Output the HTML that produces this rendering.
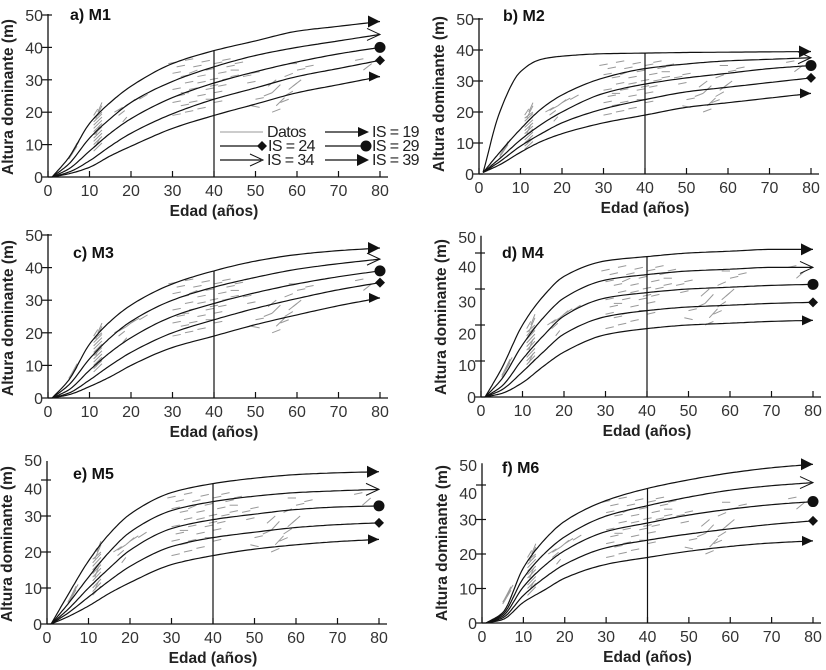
<!DOCTYPE html>
<html><head><meta charset="utf-8">
<style>
html,body{margin:0;padding:0;background:#fff;}
svg{display:block;font-family:"Liberation Sans",sans-serif;}
.tk{font-size:16px;fill:#333;}
.ttl{font-size:15.5px;font-weight:bold;fill:#222;}
.pt{font-size:16px;font-weight:bold;fill:#111;}
.lg{font-size:16px;fill:#222;letter-spacing:-0.6px;}
</style></head>
<body>
<svg id="fig" width="826" height="670" viewBox="0 0 826 670" xmlns="http://www.w3.org/2000/svg"></svg>
<script>
// ---- data ----
const ages = [1,5,10,15,20,30,40,50,60,70,80];
const siteIndices = [39,34,29,24,19];
const xTicks = [0,10,20,30,40,50,60,70,80];
const yTickLabels = [0,10,20,30,40,50];
// M1
const m1_is39 = [0,6,16.5,23,28,35,39,42,45,46.5,48];
const m1_is34 = [0,4,12,18,23,29.5,34,37.5,40,42,44];
const m1_is29 = [0,2.5,8,13.5,18,24.5,29,32.5,35.5,38,40];
const m1_is24 = [0,1.5,5,9.5,13.5,19.5,24,27.5,31,33.5,36];
const m1_is19 = [0,1,3,6.5,9.5,15,19,22.5,26,28.5,31];
// M2
const m2_is39 = [0.5,20,33,37,38,38.8,39,39.2,39.3,39.4,39.5];
const m2_is34 = [0.5,7,14.5,21,25.5,31,34,35.5,36.5,37,37.5];
const m2_is29 = [0.5,5,11,16,20,26,29,31,32.5,34,35];
const m2_is24 = [0.5,4,9,13,16.5,21,24,26.5,28,29.5,31];
const m2_is19 = [0.5,3,7,10.5,13,16.5,19,21.5,23,24.5,26];
// M3
const m3_is39 = [0,5.5,16.5,23.5,28.5,35,39,42,44,45.2,46];
const m3_is34 = [0,4,12,18.5,23.5,30,34,37,39.5,41.2,42.6];
const m3_is29 = [0,2.5,8.5,14,18.5,25,29,32.3,35,37.2,39];
const m3_is24 = [0,1.5,5.5,10,14,20,24,27.5,30.5,33.2,35.4];
const m3_is19 = [0,1,3.5,6.5,10,15.5,19,22.5,25.5,28.3,30.7];
// M4
const m4_is39 = [0,8,20,28,33.5,37.8,39,40,40.5,41,41];
const m4_is34 = [0,5,14.5,22,27.5,32.5,34,35,35.5,36,36];
const m4_is29 = [0,3,10.5,17,22.5,27.5,29,30,30.5,31,31.3];
const m4_is24 = [0,2,7,12.5,17.5,22.3,24,25,25.5,26,26.3];
const m4_is19 = [0,1,4,8.5,12.5,17.3,19,20,20.5,21,21.3];
// M5
const m5_is39 = [0,8,17.5,25,30.5,36.5,39,40.5,41.5,42,42.3];
const m5_is34 = [0,5.5,13,20,25.5,31.5,34,35.5,36.5,37,37.4];
const m5_is29 = [0,4,10,15.5,20.5,26.5,29,30.5,31.8,32.5,32.8];
const m5_is24 = [0,3,7.5,12,16,21.5,24,25.5,26.8,27.6,28.1];
const m5_is19 = [0,2,5,8.5,11.5,16.5,19,20.8,22,22.9,23.5];
// M6
const m6_is39 = [0,3,16,24,29.5,35.5,39,41.5,43.5,45,46];
const m6_is34 = [0,2.5,13,20,25,31,34,36.5,38.5,39.8,40.7];
const m6_is29 = [0,2,10.5,16.5,21,26.5,29,31.3,33,34.3,35.2];
const m6_is24 = [0,1.5,8,13,17,21.8,24,25.8,27.3,28.6,29.6];
const m6_is19 = [0,1,6,9.5,13,17,19,20.8,22.2,23.2,23.8];
// observed data segments [age1,h1,age2,h2]
const dataSegments = [
[5,6,6.5,9],[5.5,7,7,10.5],[6,8,7.5,11],[5,5.5,6,7.5],[6,7.5,7,9.5],
[11,8,13,10.5],[11,9,13,11.5],[11,10,13,12.5],[11,11,13,13.5],[11,12,13,14.5],[11,13,13,15.5],[11,14,13,16.5],
[11,15,13,17.5],[11,16,13,18.5],[11,17,13,19.5],[11,18,13,20],[11.5,9.5,12.5,12],[11.5,13,12.5,16],[11.5,18,13,22],[12,20,13,23],[11,19,12,21],
[16,20,18,21.5],[17,20.5,19,22],[18,17,19,18.5],[19,22,21,24],[20,23,22,24.5],[22,24,24,25.5],[17,19,18.5,20.5],
[29,35,31,35.5],[31,34,33,34.5],[33,36,35,36.5],[35,34,37,34.5],[37,35.5,39,36],[30,32,32,32.5],[32,31,34,31.5],[34,32,36,33],
[36,31,38,31.5],[38,33,40,33.5],[40,35,42,35.5],[42,36,44,36.5],[43,34,45,34.5],[41,32,43,32.5],[44,31,46,31.5],[39,30,41,30.5],
[33,29,35,29.5],[30,27,32,27.5],[31,25,33,25.5],[32,26,34,26],[34,27,36,27.5],[36,25,38,25.5],[38,27,40,27.5],[40,26,42,26.5],
[41,28,43,28.5],[30,23,32,23.5],[32,22,34,22.5],[34,23,36,23.5],[36,21,38,21.5],[38,24,40,24],[40,23,42,23.5],[30,19,32,19.5],
[33,20,35,20.5],[36,29,38,29.5],[39,28,41,28.5],[42,30,44,30.5],[44,33,46,33],[45,35,47,35.5],
[47,31,49,31.5],[49,32,51,32.5],[48,29,50,29.5],[50,24,52,24.5],[49,22,51,21.5],[53,28,55,30],[52,25,54,26],[54,26,56,28.5],
[55,22,57,24.5],[54,20,56,21],[56,23,58,24],[58,27,60,29],[57,25,59,26.5],[59,28,61,30],[60,33,62,33.5],[58,35,60,35],
[62,34,64,34.5],[57,31,59,32],[76,33,78,35],[74,36,76,36.5]
];
// ---- panel layouts ----
const panels = [
 {id:'a',title:'a) M1',x0:48,x80:380,y0:177,k:3.24,tickMax:50,labelPos:[0,10,20,30,40,50],tx:70,ty:20,curves:[m1_is39,m1_is34,m1_is29,m1_is24,m1_is19]},
 {id:'b',title:'b) M2',x0:479,x80:811,y0:174,k:3.1,tickMax:50,labelPos:[0,10,20,30,40,50],tx:503,ty:21,curves:[m2_is39,m2_is34,m2_is29,m2_is24,m2_is19]},
 {id:'c',title:'c) M3',x0:48,x80:380,y0:398,k:3.26,tickMax:50,labelPos:[0,10,20,30,40,50],tx:73,ty:258,curves:[m3_is39,m3_is34,m3_is29,m3_is24,m3_is19]},
 {id:'d',title:'d) M4',x0:481,x80:813,y0:397,k:3.6,tickMax:44.5,ticks:[0,10,20,30,40],labelPos:[0,8.9,17.7,26.5,36.2,44.4],tx:502,ty:258,curves:[m4_is39,m4_is34,m4_is29,m4_is24,m4_is19]},
 {id:'e',title:'e) M5',x0:47,x80:379,y0:624,k:3.6,tickMax:45,ticks:[0,10,20,30,40],labelPos:[0,10,20,30,37.7,45.5],tx:73,ty:479,curves:[m5_is39,m5_is34,m5_is29,m5_is24,m5_is19]},
 {id:'f',title:'f) M6',x0:482,x80:813,y0:623,k:3.45,tickMax:46,ticks:[0,10,20,30,40],labelPos:[0,10,20,30,37.7,45.8],tx:502,ty:473,curves:[m6_is39,m6_is34,m6_is29,m6_is24,m6_is19]}
];
const NS='http://www.w3.org/2000/svg';
const svg=document.getElementById('fig');
function mk(tag,attrs,parent){const e=document.createElementNS(NS,tag);for(const a in attrs)e.setAttribute(a,attrs[a]);(parent||svg).appendChild(e);return e;}
// monotone cubic (Fritsch-Carlson) interpolation, sampled
function monotonePath(xs,ys,sx,sy){
  const n=xs.length,h=[],dl=[],m=new Array(n);
  for(let i=0;i<n-1;i++){h[i]=xs[i+1]-xs[i];dl[i]=(ys[i+1]-ys[i])/h[i];}
  m[0]=dl[0];m[n-1]=dl[n-2];
  for(let i=1;i<n-1;i++){
    if(dl[i-1]*dl[i]<=0)m[i]=0;
    else{const w1=2*h[i]+h[i-1],w2=h[i]+2*h[i-1];m[i]=(w1+w2)/(w1/dl[i-1]+w2/dl[i]);}
  }
  let d='';
  for(let i=0;i<n-1;i++){
    const steps=12;
    for(let s=(i===0?0:1);s<=steps;s++){
      const t=s/steps,t2=t*t,t3=t2*t;
      const v=(2*t3-3*t2+1)*ys[i]+(t3-2*t2+t)*h[i]*m[i]+(-2*t3+3*t2)*ys[i+1]+(t3-t2)*h[i]*m[i+1];
      const x=xs[i]+t*h[i];
      d+=(d?' L':'M')+sx(x).toFixed(1)+','+sy(v).toFixed(1);
    }
  }
  return d;
}
function marker(g,type,x,y){
  let m;
  if(type===0) m=mk('path',{d:`M${x-12},${y-6} L${x},${y} L${x-12},${y+6} Z`,fill:'#111'},g);
  else if(type===1) m=mk('path',{d:`M${x-13},${y-6} L${x},${y} L${x-13},${y+6}`,fill:'none',stroke:'#111','stroke-width':1},g);
  else if(type===2) m=mk('circle',{cx:x,cy:y,r:5.5,fill:'#111'},g);
  else if(type===3) m=mk('path',{d:`M${x-5},${y} L${x},${y-5} L${x+5},${y} L${x},${y+5} Z`,fill:'#111'},g);
  else m=mk('path',{d:`M${x-11},${y-5} L${x},${y} L${x-11},${y+5} Z`,fill:'#111'},g);
  return m;
}
panels.forEach(p=>{
  const sx=v=>p.x0+(p.x80-p.x0)*v/80;
  const sy=v=>p.y0-p.k*v;
  const g=mk('g',{});
  
  
  const dg=mk('g',{stroke:'#999','stroke-width':1,fill:'none'},g);
  
  
  dataSegments.forEach(s=>{
    const l=mk('line',{x1:sx(s[0]),y1:sy(s[1]),x2:sx(s[2]),y2:sy(s[3])},dg);
    
    
  });
  const ax=mk('line',{x1:p.x0,y1:p.y0,x2:p.x80+8,y2:p.y0,stroke:'#111','stroke-width':1.3},g);
  
  
  const ay=mk('line',{x1:p.x0,y1:p.y0,x2:p.x0,y2:sy(p.tickMax)-1,stroke:'#111','stroke-width':1.3},g);
  
  
  xTicks.forEach(t=>{
    mk('line',{x1:sx(t),y1:p.y0,x2:sx(t),y2:p.y0-6,stroke:'#111','stroke-width':1.2},g);
    const tx=mk('text',{x:sx(t),y:p.y0+19,'text-anchor':'middle',class:'tk'},g);
    tx.textContent=t;
    
    
  });
  (p.ticks||yTickLabels).forEach(t=>{mk('line',{x1:p.x0-6,y1:sy(t),x2:p.x0+4,y2:sy(t),stroke:'#111','stroke-width':1.2},g);});
  yTickLabels.forEach((t,i)=>{
    const tx=mk('text',{x:p.x0-5,y:sy(p.labelPos[i])+6,'text-anchor':'end',class:'tk'},g);
    tx.textContent=t;
    
    
  });
  const vl=mk('line',{x1:sx(40),y1:p.y0,x2:sx(40),y2:sy(39),stroke:'#111','stroke-width':1.2},g);
  
  
  p.curves.forEach((c,ci)=>{
    const path=mk('path',{d:monotonePath(ages,c,sx,sy),fill:'none',stroke:'#111','stroke-width':1.2},g);
    
    
    const m=marker(g,ci,sx(80),sy(c[c.length-1]));
    
    
  });
  const t=mk('text',{x:p.tx,y:p.ty,class:'pt'},g);t.textContent=p.title;
  
  
  const xt=mk('text',{x:(p.x0+p.x80)/2,y:p.y0+39,'text-anchor':'middle',class:'ttl'},g);xt.textContent='Edad (años)';
  
  
  const cy=p.y0-80;
  const yt=mk('text',{x:p.x0-35,y:cy,'text-anchor':'middle',class:'ttl',transform:`rotate(-90 ${p.x0-35} ${cy})`},g);yt.textContent='Altura dominante (m)';
  
  
});
const lg=mk('g',{});


const rows=[[137,'Datos',-1,'IS = 19',4],[151,'IS = 24',3,'IS = 29',2],[165,'IS = 34',1,'IS = 39',0]];
rows.forEach(r=>{
  const y=r[0]-5;
  if(r[2]<0){mk('line',{x1:220,y1:y,x2:263,y2:y,stroke:'#999','stroke-width':1},lg);}
  else{mk('line',{x1:220,y1:y,x2:261,y2:y,stroke:'#111','stroke-width':1.2},lg);marker(lg,r[2],r[2]===3?262:263,y);}
  const t1=mk('text',{x:r[2]===3?268:267,y:r[0],class:'lg'},lg);t1.textContent=r[1];
  
  
  mk('line',{x1:325,y1:y,x2:366,y2:y,stroke:'#111','stroke-width':1.2},lg);
  marker(lg,r[4],r[4]===2?366:369,y);
  const t2=mk('text',{x:372,y:r[0],class:'lg'},lg);t2.textContent=r[3];
  
  
});
</script>
</body></html>
